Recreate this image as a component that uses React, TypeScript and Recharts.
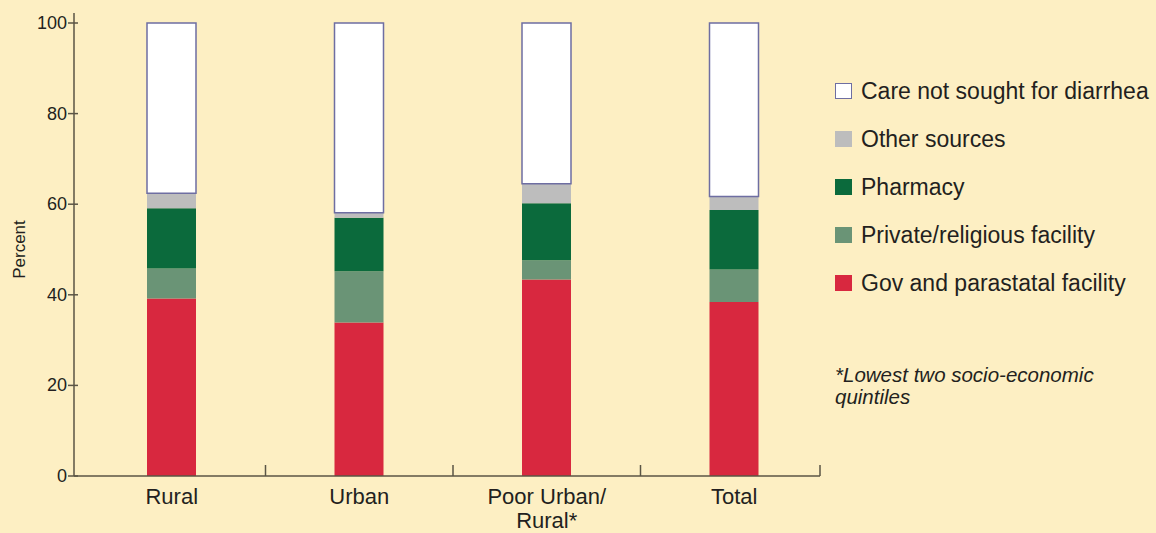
import React from 'react';
import { BarChart, Bar, XAxis, YAxis, Legend, Label } from 'recharts';

// Where care was sought for childhood diarrhea, percent of cases by setting
const categories = ['Rural', 'Urban', 'Poor Urban/\nRural*', 'Total'];
const govFacility = [39.2, 33.9, 43.4, 38.4];
const privateReligious = [6.6, 11.3, 4.2, 7.2];
const pharmacy = [13.3, 11.8, 12.6, 13.1];
const otherSources = [3.3, 1.1, 4.3, 3.0];
const careNotSought = [37.6, 41.9, 35.5, 38.3];
const yTicks = [0, 20, 40, 60, 80, 100];
const footnote = ['*Lowest two socio-economic', 'quintiles'];

const series = [
  { key: 'gov', name: 'Gov and parastatal facility', values: govFacility, fill: '#d8283f', stroke: 'none' },
  { key: 'private', name: 'Private/religious facility', values: privateReligious, fill: '#6a9476', stroke: 'none' },
  { key: 'pharmacy', name: 'Pharmacy', values: pharmacy, fill: '#0b6a3c', stroke: 'none' },
  { key: 'other', name: 'Other sources', values: otherSources, fill: '#bdbdbd', stroke: 'none' },
  { key: 'notSought', name: 'Care not sought for diarrhea', values: careNotSought, fill: '#ffffff', stroke: '#6e6ea2' },
];

const data = categories.map((category, i) => {
  const row: Record<string, string | number> = { category };
  series.forEach((s) => {
    row[s.key] = s.values[i];
  });
  return row;
});

const FONT = '"Liberation Sans", Arial, Helvetica, sans-serif';
const TEXT = '#231f20';
const AXIS = '#5a5545';
const BG = '#fdefc3';

const W = 1156;
const H = 533;
const MARGIN = { top: 23, right: 336, bottom: 7, left: 0 };
const Y_AXIS_W = 74;
const X_AXIS_H = 50;
const PLOT_RIGHT = W - MARGIN.right;

// Category separators sit on the band edges; the last one closes the axis.
const CategoryTick = (props: any) => {
  const { x, y, payload, index } = props;
  const half = typeof payload.offset === 'number' && payload.offset > 0 ? payload.offset : 93;
  const sepX = index === categories.length - 1 ? PLOT_RIGHT : x + half;
  const lines = String(payload.value).split('\n');
  return (
    <g>
      <line x1={sepX} x2={sepX} y1={y} y2={y - 11} stroke={AXIS} strokeWidth={1.5} />
      <text x={x} y={y + 28} textAnchor="middle" fill={TEXT} fontSize={22} fontFamily={FONT}>
        {lines.map((l, i) => (
          <tspan key={i} x={x} dy={i === 0 ? 0 : 24}>
            {l}
          </tspan>
        ))}
      </text>
    </g>
  );
};

// Value ticks cross the axis line.
const ValueTick = (props: any) => {
  const { x, y, payload } = props;
  return (
    <g>
      <line x1={x} x2={x + 10} y1={y} y2={y} stroke={AXIS} strokeWidth={1.5} />
      <text x={x - 1} y={y} textAnchor="end" dominantBaseline="central" fill={TEXT} fontSize={18} fontFamily={FONT}>
        {payload.value}
      </text>
    </g>
  );
};

const LegendBox = () => (
  <div style={{ fontFamily: FONT, color: TEXT }}>
    {[...series].reverse().map((s) => (
      <div key={s.key} style={{ display: 'flex', alignItems: 'center', height: 48 }}>
        <span
          style={{
            display: 'inline-block',
            width: s.stroke === 'none' ? 17 : 15,
            height: s.stroke === 'none' ? 16 : 14,
            background: s.fill,
            border: s.stroke === 'none' ? 'none' : `1px solid ${s.stroke}`,
            marginRight: 9,
          }}
        />
        <span style={{ fontSize: 23, whiteSpace: 'nowrap' }}>{s.name}</span>
      </div>
    ))}
    <div style={{ marginTop: 57, fontSize: 20.5, fontStyle: 'italic', lineHeight: '22px' }}>
      {footnote.map((l) => (
        <div key={l}>{l}</div>
      ))}
    </div>
  </div>
);

export default function App() {
  return (
    <div style={{ position: 'absolute', left: 0, top: 0, width: W, height: H, background: BG }}>
      <BarChart width={W} height={H} data={data} margin={MARGIN} barSize={49}>
        <XAxis
          dataKey="category"
          height={X_AXIS_H}
          padding={{ left: 4, right: -8 }}
          axisLine={{ stroke: AXIS, strokeWidth: 1.5 }}
          tickLine={false}
          tickSize={0}
          tickMargin={0}
          interval={0}
          tick={<CategoryTick />}
        />
        <YAxis
          width={Y_AXIS_W}
          domain={[0, 100]}
          ticks={yTicks}
          interval={0}
          axisLine={{ stroke: AXIS, strokeWidth: 1.5 }}
          tickLine={false}
          tickSize={6}
          tickMargin={0}
          tick={<ValueTick />}
        >
          <Label
            content={(p: any) => {
              const vb = p.viewBox;
              const cx = vb.x + 19;
              const cy = vb.y + vb.height / 2;
              const axisX = vb.x + vb.width;
              return (
                <g>
                  <line x1={axisX} x2={axisX} y1={vb.y - 10} y2={vb.y} stroke={AXIS} strokeWidth={1.5} />
                  <text
                    x={cx}
                    y={cy}
                    transform={`rotate(-90 ${cx} ${cy})`}
                    textAnchor="middle"
                    dominantBaseline="central"
                    fill={TEXT}
                    fontSize={17}
                    fontFamily={FONT}
                  >
                    Percent
                  </text>
                </g>
              );
            }}
          />
        </YAxis>
        {series.map((s) => (
          <Bar
            key={s.key}
            dataKey={s.key}
            name={s.name}
            stackId="care"
            fill={s.fill}
            stroke={s.stroke}
            strokeWidth={s.stroke === 'none' ? 0 : 1.5}
            isAnimationActive={false}
          />
        ))}
        <Legend
          layout="vertical"
          align="center"
          verticalAlign="middle"
          wrapperStyle={{ left: 835, top: 67, width: 321, height: 'auto' }}
          content={<LegendBox />}
        />
      </BarChart>
    </div>
  );
}
